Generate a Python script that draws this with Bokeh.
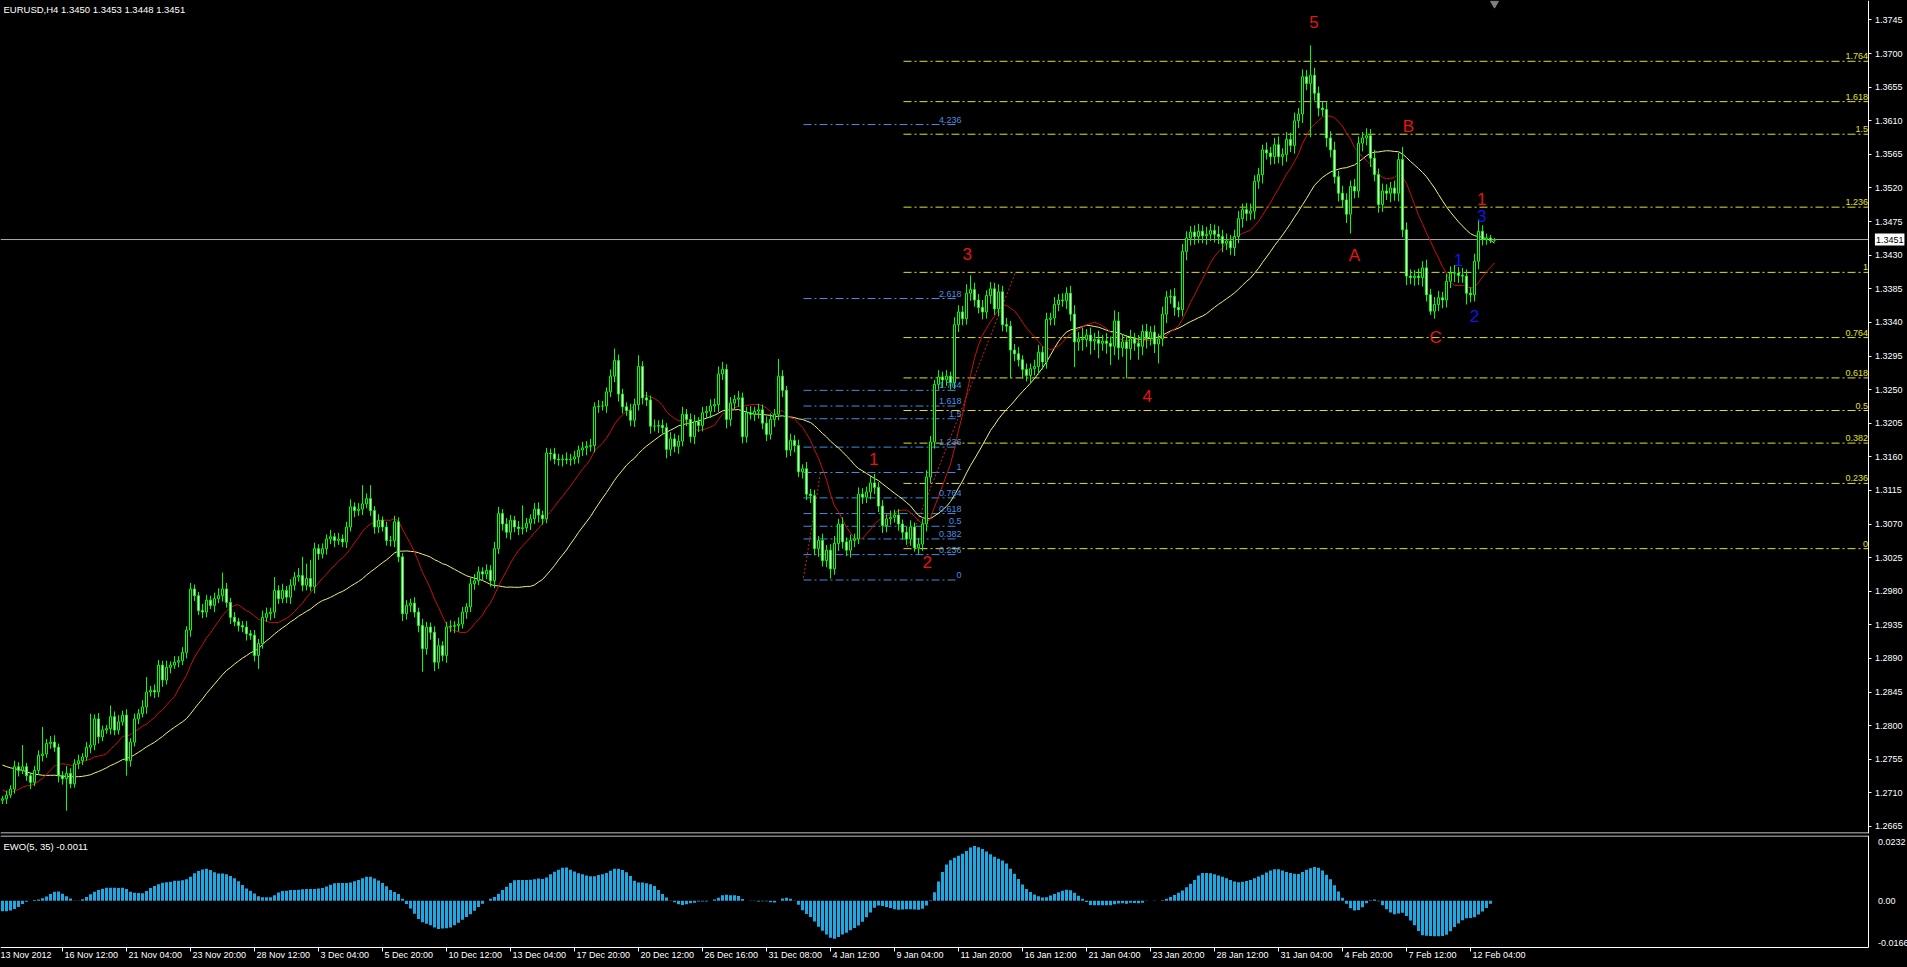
import numpy as np
import pandas as pd
from bokeh.plotting import figure
from bokeh.models import (ColumnDataSource, Range1d, LinearAxis, FixedTicker,
                          NumeralTickFormatter, Label, LabelSet,
                          GlobalInlineStyleSheet)
from bokeh.layouts import column
from bokeh.embed import file_html
from bokeh.resources import INLINE
from bokeh.core.properties import value

# ---------------- data (prices in pips above 1.2000) ----------------
HEADER = "EURUSD,H4  1.3450 1.3453 1.3448 1.3451"
EWO_TITLE = "EWO(5, 35) -0.0011"
LAST_PRICE = 1.3451
LAST_PRICE_TEXT = "1.3451"
OPEN0 = 700

# closes of the 34 H4 bars before the first visible bar (only feed the indicators)
PRE_CLOSE = [
    778, 775, 772, 780,
    782, 785, 790, 795, 785, 780,
    790, 782, 775, 765, 755, 750,
    748, 742, 745, 750, 742, 738,
    735, 728, 720, 712, 708, 710,
    714, 716, 712, 709, 707, 704,
]

CLOSE = [
    702, 707, 715, 745, 740, 745, 733, 724, 740, 760,
    762, 776, 778, 771, 733, 729, 736, 722, 749, 753,
    758, 771, 774, 809, 785, 794, 796, 812, 794, 805,
    814, 753, 778, 809, 816, 825, 845, 847, 845, 881,
    861, 878, 881, 885, 887, 898, 928, 983, 974, 954,
    952, 968, 961, 970, 974, 983, 965, 945, 939, 934,
    932, 923, 921, 894, 910, 945, 950, 952, 981, 970,
    981, 972, 988, 999, 1001, 988, 997, 986, 1037, 1030,
    1037, 1050, 1053, 1048, 1050, 1046, 1066, 1093, 1088, 1090,
    1097, 1104, 1088, 1066, 1075, 1066, 1048, 1048, 1073, 1026,
    950, 961, 964, 952, 934, 903, 932, 925, 885, 907,
    894, 932, 933, 934, 936, 952, 959, 990, 994, 1006,
    1003, 1008, 994, 1037, 1084, 1070, 1059, 1075, 1066, 1064,
    1065, 1071, 1077, 1090, 1082, 1077, 1165, 1164, 1157, 1156,
    1157, 1156, 1157, 1160, 1169, 1172, 1174, 1175, 1227, 1228,
    1228, 1247, 1268, 1289, 1244, 1227, 1222, 1209, 1230, 1281,
    1239, 1236, 1201, 1201, 1202, 1199, 1170, 1184, 1174, 1181,
    1217, 1210, 1187, 1207, 1202, 1219, 1221, 1228, 1230, 1271,
    1277, 1210, 1232, 1237, 1239, 1187, 1219, 1217, 1221, 1223,
    1205, 1190, 1210, 1217, 1268, 1249, 1169, 1182, 1175, 1140,
    1144, 1110, 1108, 1037, 1048, 1021, 1035, 1010, 1044, 1070,
    1046, 1035, 1048, 1050, 1110, 1106, 1113, 1125, 1119, 1094,
    1068, 1077, 1079, 1082, 1070, 1059, 1050, 1066, 1038, 1043,
    1070, 1133, 1180, 1257, 1267, 1263, 1268, 1259, 1337, 1354,
    1345, 1379, 1384, 1370, 1360, 1354, 1376, 1385, 1358, 1381,
    1337, 1335, 1303, 1298, 1290, 1277, 1269, 1278, 1281, 1300,
    1287, 1344, 1346, 1364, 1370, 1369, 1379, 1351, 1314, 1318,
    1317, 1323, 1315, 1317, 1312, 1315, 1312, 1308, 1342, 1306,
    1314, 1305, 1318, 1312, 1308, 1328, 1319, 1327, 1311, 1318,
    1351, 1374, 1375, 1360, 1357, 1435, 1453, 1461, 1455, 1462,
    1456, 1458, 1463, 1458, 1455, 1446, 1449, 1440, 1455, 1479,
    1491, 1486, 1489, 1529, 1538, 1571, 1567, 1562, 1578, 1562,
    1565, 1585, 1577, 1610, 1619, 1669, 1660, 1671, 1647, 1627,
    1625, 1587, 1571, 1535, 1513, 1504, 1485, 1522, 1516, 1580,
    1587, 1590, 1560, 1538, 1498, 1516, 1513, 1520, 1513, 1558,
    1464, 1402, 1400, 1402, 1400, 1413, 1377, 1355, 1364, 1373,
    1370, 1395, 1406, 1406, 1403, 1402, 1379, 1377, 1422, 1462,
    1451, 1453, 1450, 1451,
]

UPPER_WICK = [
    4, 6, 5, 8, 6, 29, 5, 4, 6, 7, 36, 6, 8, 9, 5, 6, 10, 7, 6, 8,
    5, 7, 42, 6, 8, 6, 5, 15, 7, 9, 6, 8, 5, 7, 6, 9, 20, 6, 8, 7,
    6, 9, 5, 8, 6, 7, 5, 8, 6, 5, 9, 7, 6, 8, 10, 22, 8, 6, 7, 5,
    6, 8, 5, 7, 6, 9, 8, 6, 18, 7, 9, 6, 8, 7, 10, 25, 20, 25, 8, 6,
    7, 6, 9, 5, 8, 6, 7, 10, 6, 8, 25, 7, 18, 6, 8, 5, 7, 6, 8, 6,
    5, 7, 6, 8, 6, 9, 7, 6, 8, 10, 6, 7, 8, 6, 9, 7, 5, 8, 9, 7,
    6, 8, 7, 9, 9, 6, 8, 7, 6, 8, 30, 7, 6, 8, 9, 6, 7, 6, 8, 7,
    6, 9, 7, 8, 6, 8, 7, 9, 6, 8, 7, 6, 9, 16, 8, 7, 6, 9, 8, 15,
    7, 8, 6, 9, 7, 8, 6, 9, 7, 8, 10, 7, 8, 9, 6, 8, 7, 9, 8, 10,
    10, 7, 8, 6, 9, 7, 8, 9, 6, 8, 7, 9, 8, 7, 23, 8, 6, 9, 7, 8,
    6, 9, 7, 8, 6, 9, 7, 8, 10, 7, 9, 6, 8, 7, 9, 8, 7, 10, 12, 7,
    8, 6, 9, 7, 8, 6, 7, 9, 6, 8, 7, 9, 8, 6, 9, 7, 8, 6, 10, 9,
    8, 12, 19, 9, 8, 10, 7, 9, 8, 10, 8, 9, 7, 8, 9, 6, 8, 7, 9, 10,
    8, 9, 7, 10, 8, 9, 8, 10, 12, 9, 15, 8, 10, 9, 12, 8, 11, 9, 14, 12,
    10, 9, 12, 8, 11, 9, 10, 8, 9, 7, 10, 8, 9, 11, 8, 10, 9, 8, 9, 10,
    8, 10, 9, 8, 11, 9, 10, 8, 9, 10, 8, 9, 10, 8, 9, 7, 10, 8, 9, 11,
    8, 10, 9, 11, 8, 10, 9, 40, 10, 9, 8, 10, 9, 11, 8, 10, 9, 8, 10, 9,
    8, 10, 9, 11, 8, 10, 9, 8, 10, 9, 17, 10, 9, 8, 10, 9, 11, 8, 10, 9,
    8, 10, 9, 11, 8, 10, 9, 8, 10, 15, 8, 6, 4, 2,
]

LOWER_WICK = [
    5, 7, 4, 6, 8, 5, 7, 9, 5, 6, 8, 5, 7, 6, 9, 8, 43, 6, 5, 7,
    6, 5, 8, 7, 9, 6, 5, 8, 7, 6, 5, 20, 8, 6, 7, 5, 9, 6, 8, 7,
    9, 6, 8, 5, 7, 6, 8, 9, 7, 6, 8, 7, 5, 9, 6, 8, 7, 9, 6, 8,
    7, 9, 6, 8, 18, 7, 6, 9, 8, 7, 6, 8, 9, 7, 6, 8, 7, 6, 9, 8,
    6, 8, 7, 9, 6, 7, 8, 6, 9, 7, 8, 6, 7, 9, 8, 6, 7, 8, 9, 7,
    10, 8, 9, 7, 9, 31, 8, 10, 12, 9, 8, 10, 7, 9, 8, 6, 9, 7, 8, 6,
    9, 7, 8, 10, 7, 9, 8, 10, 7, 9, 8, 6, 9, 7, 10, 8, 6, 9, 7, 8,
    9, 6, 8, 7, 9, 8, 10, 7, 9, 8, 6, 9, 7, 8, 10, 9, 7, 8, 9, 8,
    9, 8, 10, 7, 9, 8, 12, 9, 8, 10, 7, 9, 8, 10, 9, 8, 7, 9, 8, 10,
    8, 12, 9, 8, 10, 9, 8, 7, 9, 10, 8, 9, 7, 10, 8, 9, 10, 8, 9, 7,
    9, 8, 10, 9, 11, 8, 9, 13, 8, 10, 9, 8, 10, 9, 7, 9, 8, 10, 9, 8,
    10, 9, 8, 7, 9, 10, 8, 9, 5, 8, 9, 10, 8, 9, 7, 10, 8, 9, 8, 10,
    9, 8, 10, 9, 8, 10, 9, 11, 8, 10, 9, 8, 38, 10, 9, 12, 8, 10, 9, 11,
    10, 9, 8, 10, 9, 8, 11, 9, 34, 12, 15, 10, 18, 12, 20, 10, 14, 25, 12, 16,
    12, 40, 15, 10, 18, 12, 14, 10, 12, 26, 10, 12, 9, 11, 10, 9, 12, 10, 11, 9,
    10, 12, 9, 11, 10, 12, 9, 10, 11, 9, 12, 10, 9, 11, 10, 12, 9, 11, 10, 9,
    12, 10, 9, 11, 10, 12, 9, 72, 10, 11, 9, 12, 10, 9, 11, 10, 12, 26, 10, 9,
    11, 10, 12, 9, 11, 10, 9, 12, 10, 11, 10, 12, 9, 11, 10, 12, 9, 5, 10, 9,
    11, 10, 9, 12, 10, 9, 15, 10, 9, 11, 8, 7, 4, 2,
]

TIME_TICK_BARS = [0, 16, 32, 48, 64, 80, 96, 112, 128, 144, 160, 176,
                  192, 208, 224, 240, 256, 272, 288, 304, 320, 336, 352, 368]
TIME_LABELS = ["13 Nov 2012", "16 Nov 12:00", "21 Nov 04:00", "23 Nov 20:00",
               "28 Nov 12:00", "3 Dec 04:00", "5 Dec 20:00", "10 Dec 12:00",
               "13 Dec 04:00", "17 Dec 20:00", "20 Dec 12:00", "26 Dec 16:00",
               "31 Dec 08:00", "4 Jan 12:00", "9 Jan 04:00", "11 Jan 20:00",
               "16 Jan 12:00", "21 Jan 04:00", "23 Jan 20:00", "28 Jan 12:00",
               "31 Jan 04:00", "4 Feb 20:00", "7 Feb 12:00", "12 Feb 04:00"]

PRICE_TICKS = [1.2665, 1.2710, 1.2755, 1.2800, 1.2845, 1.2890, 1.2935, 1.2980,
               1.3025, 1.3070, 1.3115, 1.3160, 1.3205, 1.3250, 1.3295, 1.3340,
               1.3385, 1.3430, 1.3475, 1.3520, 1.3565, 1.3610, 1.3655, 1.3700,
               1.3745]
EWO_TICKS = [0.0232, 0.0, -0.0166]
EWO_TICK_TEXT = ["0.0232", "0.00", "-0.0166"]

# Fibonacci expansions: yellow (right) and blue (left)
Y_FIB_RATIOS = [0, 0.236, 0.382, 0.5, 0.618, 0.764, 1, 1.236, 1.5, 1.618, 1.764]
Y_FIB_TEXT = ["0", "0.236", "0.382", "0.5", "0.618", "0.764", "1", "1.236", "1.5", "1.618", "1.764"]
Y_FIB_ZERO, Y_FIB_ONE = 1.3037, 1.3407
Y_FIB_X0 = 225.25
B_FIB_RATIOS = [0, 0.236, 0.382, 0.5, 0.618, 0.764, 1, 1.236, 1.5, 1.618, 1.764, 2.618, 4.236]
B_FIB_TEXT = ["0", "0.236", "0.382", "0.5", "0.618", "0.764", "1", "1.236", "1.5", "1.618", "1.764", "2.618", "4.236"]
B_FIB_ZERO, B_FIB_ONE = 1.2995, 1.3139
B_FIB_X0, B_FIB_X1 = 200.25, 238.75

# dotted base lines of the two expansions (bar, price)
TREND_X0 = [200.25, 226.2]
TREND_Y0 = [1.2998, 1.3039]
TREND_X1 = [204.5, 253.25]
TREND_Y1 = [1.3139, 1.3407]

# wave labels
RED_WAVE_TEXT = ["5", "3", "1", "2", "4", "A", "B", "C", "1"]
RED_WAVE_X = [327.9, 241.2, 217.8, 231.2, 286.2, 338.0, 351.5, 358.3, 369.8]
RED_WAVE_Y = [1.3742, 1.3431, 1.3157, 1.3019, 1.3242, 1.3430, 1.3603, 1.3320, 1.3505]
BLUE_WAVE_TEXT = ["3", "1", "2"]
BLUE_WAVE_X = [369.8, 364.0, 368.0]
BLUE_WAVE_Y = [1.3482, 1.3424, 1.3348]

# ---------------- derived series ----------------
n = min(len(CLOSE), len(UPPER_WICK), len(LOWER_WICK))
idx = np.arange(n)
c = np.array(CLOSE[:n]) / 10000.0 + 1.2
o = np.r_[OPEN0 / 10000.0 + 1.2, c[:-1]]
h = np.maximum(o, c) + np.array(UPPER_WICK[:n]) / 10000.0
l = np.minimum(o, c) - np.array(LOWER_WICK[:n]) / 10000.0
bull = c >= o

pre = np.array(PRE_CLOSE) / 10000.0 + 1.2
k = len(pre)
c_all = pd.Series(np.r_[pre, c])
med_all = pd.Series(np.r_[pre, (h + l) / 2.0])
ma_red = c_all.rolling(13, min_periods=1).mean().values[k:]
ma_yel = c_all.rolling(34, min_periods=1).mean().values[k:]
ewo = (med_all.rolling(5, min_periods=1).mean()
       - med_all.rolling(35, min_periods=1).mean()).values[k:]

FONT = "Liberation Sans"
LIME = "#00ff00"

# ---------------- geometry ----------------
PX_PER_BAR = 4.0
FRAME_W = 1907
X0 = -0.5
X_END = X0 + FRAME_W / PX_PER_BAR      # frame covers the price-scale column too
X_AX = 466.6                            # position of the right price scale

MAIN_H = 833
PPU = 7467.0                            # pixels per price unit
Y1 = 1.37711
Y0 = Y1 - MAIN_H / PPU
Y_SEP = Y1 - 832.5 / PPU                # bottom separator line

EWO_H = 130
EPU = 0.0003917                         # EWO units per pixel
E1 = 0.0232 + 6 * EPU
E0 = E1 - EWO_H * EPU
E_SEP = E1 - 0.5 * EPU                  # top separator line
E_AX = E1 - 111.5 * EPU                 # time axis line
E_LAB = E1 - 114.5 * EPU                # top of time labels

# ---------------- main price panel ----------------
p = figure(frame_width=FRAME_W, frame_height=MAIN_H, x_range=Range1d(X0, X_END),
           y_range=Range1d(Y0, Y1), output_backend="svg", toolbar_location=None,
           x_axis_location=None, y_axis_location=None,
           background_fill_color="black", border_fill_color="black",
           outline_line_color=None, min_border_left=0, min_border_right=0,
           min_border_top=0, min_border_bottom=2)
p.grid.visible = False

yax = LinearAxis(ticker=FixedTicker(ticks=PRICE_TICKS), fixed_location=X_AX,
                 formatter=NumeralTickFormatter(format="0.0000"),
                 axis_line_color="white", major_tick_line_color="white",
                 major_tick_out=3, major_tick_in=0, minor_tick_line_color=None,
                 major_label_standoff=3, major_label_text_color="white",
                 major_label_text_font=FONT, major_label_text_font_size="9px")
p.add_layout(yax, "right")

# separator at the bottom of the price window
p.segment(x0=[X0], x1=[X_AX], y0=[Y_SEP], y1=[Y_SEP], line_color="white", line_width=1)

# fibonacci levels
yl = [Y_FIB_ZERO + r * (Y_FIB_ONE - Y_FIB_ZERO) for r in Y_FIB_RATIOS]
p.segment(x0=[Y_FIB_X0] * len(yl), x1=[X_AX - 0.2] * len(yl), y0=yl, y1=yl,
          line_color="#e0e020", line_dash="8 3 2 3", line_width=1)
bl = [B_FIB_ZERO + r * (B_FIB_ONE - B_FIB_ZERO) for r in B_FIB_RATIOS]
p.segment(x0=[B_FIB_X0] * len(bl), x1=[B_FIB_X1] * len(bl), y0=bl, y1=bl,
          line_color="#3d8ee0", line_dash="8 3 2 3", line_width=1)
p.add_layout(LabelSet(x="x", y="y", text="t",
                      source=ColumnDataSource(dict(x=[X_AX] * len(yl), y=yl, t=Y_FIB_TEXT)),
                      text_align="right", text_baseline="alphabetic", x_offset=-1, y_offset=2,
                      text_color="#e0e020", text_font=value(FONT), text_font_size="9px"))
p.add_layout(LabelSet(x="x", y="y", text="t",
                      source=ColumnDataSource(dict(x=[B_FIB_X1 + 1.0] * len(bl), y=bl, t=B_FIB_TEXT)),
                      text_align="right", text_baseline="alphabetic", x_offset=0, y_offset=2,
                      text_color="#4a90e2", text_font=value(FONT), text_font_size="9px"))

# current price (bid) line
p.segment(x0=[X0], x1=[X_AX], y0=[LAST_PRICE], y1=[LAST_PRICE],
          line_color="#a8a8a8", line_width=1)

# red dotted base lines
p.segment(x0=TREND_X0, y0=TREND_Y0, x1=TREND_X1, y1=TREND_Y1,
          line_color="#d02020", line_dash="2 2", line_width=1)

# moving averages
p.line(idx, ma_yel, line_color="#f2f27a", line_width=1)
p.line(idx, ma_red, line_color="#cc1010", line_width=1)

# candles
src = ColumnDataSource(dict(x=idx, o=o, c=c, h=h, l=l,
                            top=np.maximum(o, c), bot=np.minimum(o, c),
                            fill=np.where(bull, "black", "white")))
p.segment(x0="x", x1="x", y0="l", y1="h", source=src, line_color=LIME, line_width=1)
p.vbar(x="x", width=0.5, top="top", bottom="bot", source=src,
       fill_color="fill", line_color=LIME, line_width=1)

# chart-shift marker
p.scatter([n - 1], [Y1 - 0.0004], marker="inverted_triangle", size=8,
          fill_color="#808080", line_color="#808080")

# wave labels
p.add_layout(LabelSet(x="x", y="y", text="t",
                      source=ColumnDataSource(dict(x=RED_WAVE_X, y=RED_WAVE_Y, t=RED_WAVE_TEXT)),
                      text_align="center", text_baseline="middle", text_color="#e81414",
                      text_font=value(FONT), text_font_size="17px"))
p.add_layout(LabelSet(x="x", y="y", text="t",
                      source=ColumnDataSource(dict(x=BLUE_WAVE_X, y=BLUE_WAVE_Y, t=BLUE_WAVE_TEXT)),
                      text_align="center", text_baseline="middle", text_color="#1414e6",
                      text_font=value(FONT), text_font_size="17px"))

# header & price tag
p.add_layout(Label(x=X0, y=Y1, x_offset=3, y_offset=-3, text=HEADER,
                   text_align="left", text_baseline="top", text_color="white",
                   text_font=FONT, text_font_size="9.5px"))
p.add_layout(Label(x=X_AX, y=LAST_PRICE, x_offset=6, text=LAST_PRICE_TEXT,
                   text_align="left", text_baseline="middle", text_color="black",
                   background_fill_color="white", padding=(1, 3),
                   text_font=FONT, text_font_size="9px"))

# ---------------- EWO panel ----------------
q = figure(frame_width=FRAME_W, frame_height=EWO_H, x_range=p.x_range,
           y_range=Range1d(E0, E1), output_backend="svg", toolbar_location=None,
           x_axis_location=None, y_axis_location=None,
           background_fill_color="black", border_fill_color="black",
           outline_line_color=None, min_border_left=0, min_border_right=0,
           min_border_top=0, min_border_bottom=0)
q.grid.visible = False
q.vbar(x=idx, top=ewo, bottom=0, width=0.75, fill_color="#1ea8e2", line_color=None)

# separator at the top of the indicator window
q.segment(x0=[X0], x1=[X_AX], y0=[E_SEP], y1=[E_SEP], line_color="white", line_width=1)

eax = LinearAxis(ticker=FixedTicker(ticks=EWO_TICKS), fixed_location=X_AX,
                 bounds=(E_AX, E1),
                 major_label_overrides={t: s for t, s in zip(EWO_TICKS, EWO_TICK_TEXT)},
                 axis_line_color="white", major_tick_line_color=None,
                 minor_tick_line_color=None, major_label_standoff=3,
                 major_label_text_color="white", major_label_text_font=FONT,
                 major_label_text_font_size="9px")
q.add_layout(eax, "right")

tick_x = [b - 1.0 for b in TIME_TICK_BARS]
xax = LinearAxis(ticker=FixedTicker(ticks=tick_x), fixed_location=E_AX,
                 bounds=(X0, X_AX),
                 major_label_overrides={t: "" for t in tick_x},
                 axis_line_color="white", major_tick_line_color="white",
                 major_tick_out=4, major_tick_in=0, minor_tick_line_color=None,
                 major_label_standoff=0, major_label_text_font_size="1px")
q.add_layout(xax, "below")
q.add_layout(LabelSet(x="x", y="y", text="t",
                      source=ColumnDataSource(dict(x=tick_x, y=[E_LAB] * len(tick_x), t=TIME_LABELS)),
                      text_align="left", text_baseline="top", x_offset=2,
                      text_color="white", text_font=value(FONT), text_font_size="9px"))
q.add_layout(Label(x=X0, y=E1, x_offset=3, y_offset=-5, text=EWO_TITLE,
                   text_align="left", text_baseline="top", text_color="white",
                   text_font=FONT, text_font_size="9.5px"))

layout = column(p, q, spacing=0,
                stylesheets=[GlobalInlineStyleSheet(
                    css="html, body {margin:0; padding:0; background:#000; overflow:hidden;}")])

open("out.html", "w").write(file_html(layout, INLINE))
